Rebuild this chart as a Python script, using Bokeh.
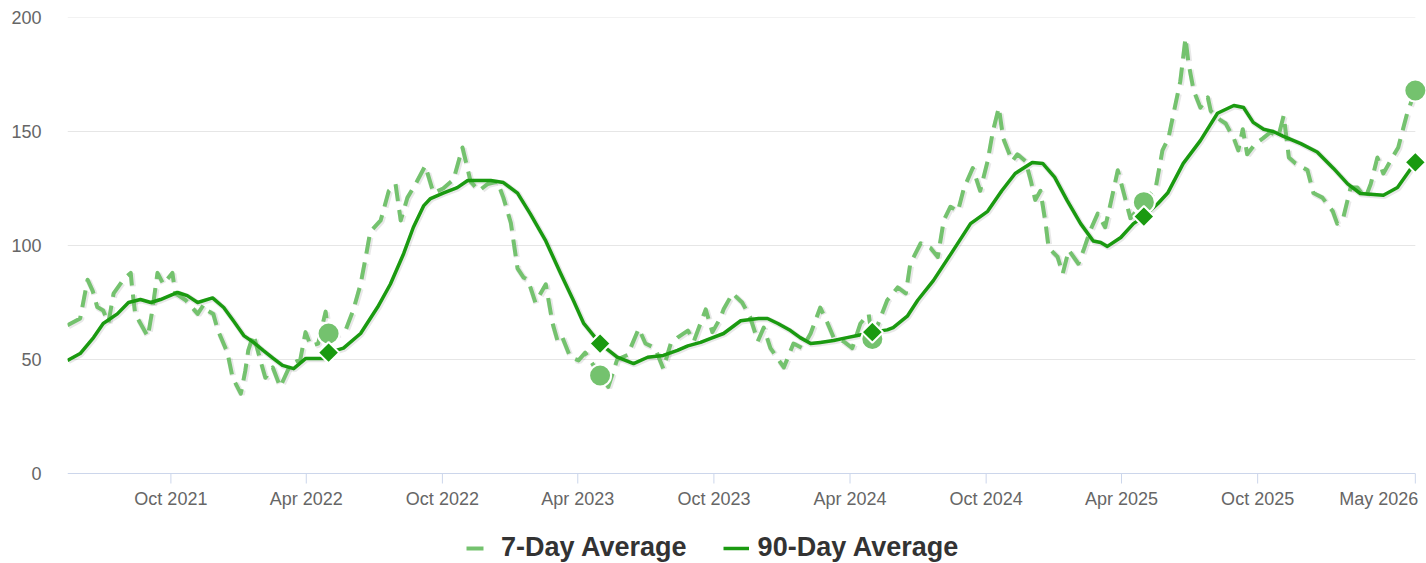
import pandas as pd
from datetime import timedelta
from bokeh.plotting import figure
from bokeh.models import Range1d, FixedTicker, Legend, LegendItem, ColumnDataSource
from bokeh.core.properties import value
from bokeh.embed import file_html
from bokeh.resources import INLINE

# ---------------- data ----------------
seven_day_dates = [
    "2021-05-15", "2021-06-01", "2021-06-11", "2021-06-18", "2021-06-24", "2021-07-02",
    "2021-07-09", "2021-07-16", "2021-07-29", "2021-08-08", "2021-08-10", "2021-08-14",
    "2021-08-31", "2021-09-06", "2021-09-13", "2021-09-21", "2021-10-03", "2021-10-07",
    "2021-10-21", "2021-11-06", "2021-11-14", "2021-11-19", "2021-11-27", "2021-12-03",
    "2021-12-16", "2021-12-23", "2022-01-03", "2022-01-09", "2022-01-13", "2022-01-20",
    "2022-01-29", "2022-02-05", "2022-02-15", "2022-02-25", "2022-03-11", "2022-03-24",
    "2022-03-31", "2022-04-07", "2022-04-17", "2022-04-27", "2022-05-01", "2022-05-13",
    "2022-05-24", "2022-06-03", "2022-06-13", "2022-06-20", "2022-06-26", "2022-07-10",
    "2022-07-21", "2022-07-30", "2022-08-06", "2022-08-15", "2022-08-26", "2022-09-08",
    "2022-09-19", "2022-10-02", "2022-10-16", "2022-10-28", "2022-11-08", "2022-11-19",
    "2022-12-01", "2022-12-14", "2022-12-22", "2023-01-01", "2023-01-10", "2023-01-18",
    "2023-01-24", "2023-02-03", "2023-02-17", "2023-02-26", "2023-03-05", "2023-03-11",
    "2023-03-22", "2023-04-02", "2023-04-11", "2023-04-21", "2023-05-01", "2023-05-12",
    "2023-05-24", "2023-06-07", "2023-06-22", "2023-07-01", "2023-07-14", "2023-07-25",
    "2023-08-04", "2023-08-13", "2023-08-27", "2023-09-04", "2023-09-20", "2023-09-29",
    "2023-10-10", "2023-10-14", "2023-10-26", "2023-11-08", "2023-11-19", "2023-11-29",
    "2023-12-07", "2023-12-16", "2024-01-03", "2024-01-16", "2024-01-28", "2024-02-08",
    "2024-02-21", "2024-03-02", "2024-03-10", "2024-03-23", "2024-04-04", "2024-04-15",
    "2024-04-26", "2024-05-01", "2024-05-21", "2024-06-04", "2024-06-15", "2024-06-21",
    "2024-07-05", "2024-07-18", "2024-07-28", "2024-08-05", "2024-08-14", "2024-08-24",
    "2024-09-01", "2024-09-13", "2024-09-23", "2024-10-03", "2024-10-10", "2024-10-18",
    "2024-10-24", "2024-11-05", "2024-11-12", "2024-11-23", "2024-11-30", "2024-12-06",
    "2024-12-13", "2024-12-20", "2024-12-24", "2025-01-05", "2025-01-12", "2025-01-20",
    "2025-02-02", "2025-02-09", "2025-02-18", "2025-02-28", "2025-03-10", "2025-03-17",
    "2025-03-27", "2025-04-04", "2025-04-13", "2025-05-01", "2025-05-17", "2025-05-26",
    "2025-06-03", "2025-06-10", "2025-06-19", "2025-06-26", "2025-06-30", "2025-07-07",
    "2025-07-16", "2025-07-26", "2025-07-30", "2025-08-12", "2025-08-19", "2025-08-30",
    "2025-09-05", "2025-09-11", "2025-09-17", "2025-09-28", "2025-10-08", "2025-10-18",
    "2025-10-29", "2025-11-05", "2025-11-12", "2025-11-21", "2025-12-07", "2025-12-15",
    "2025-12-27", "2026-01-10", "2026-01-16", "2026-01-24", "2026-02-03", "2026-02-12",
    "2026-02-23", "2026-03-02", "2026-03-11", "2026-03-19", "2026-03-31", "2026-04-08",
    "2026-04-20", "2026-05-01",
]
seven_day_values = [
    65, 68, 85, 80, 73, 71.5,
    66, 79, 85, 88, 81, 70,
    60, 71.5, 88, 83, 88, 79,
    76, 70, 74, 71.5, 70, 63,
    53, 42, 35, 45, 54, 61,
    50, 42, 46.5, 38, 48, 50,
    62, 56, 57, 71, 61.4, 61,
    63, 71.5, 83, 95, 106, 111,
    124, 127, 111, 121, 127, 135,
    123, 125, 129, 143, 128, 124,
    127, 128, 121, 110, 90, 86,
    85, 75, 83, 66, 58, 60,
    51, 49.6, 53, 48, 43, 38,
    50, 52, 63.6, 57, 55, 46,
    57, 59.6, 62.7, 58, 72, 62,
    68.4, 72, 79, 75, 68.4, 58,
    64, 55, 46.5, 57, 55, 61.4,
    72.8, 65.8, 59.6, 58, 55, 65.8,
    70, 59, 76, 81.6, 79, 92,
    101, 99, 95, 111, 117, 115,
    125, 134, 124, 137, 150, 160.5,
    147, 137, 140, 137, 128.5, 120,
    124, 109.6, 99, 95, 87.7, 98,
    92, 98, 106.6, 114, 108, 118,
    133, 123, 112, 119, 125.4, 141.7,
    147, 158, 172, 191, 180, 168,
    160.5, 165, 159, 155, 153.5, 147,
    141.7, 151, 140, 144.7, 147, 149.6,
    148, 157, 138.6, 136, 133, 123,
    121, 115, 109.6, 112, 125.4, 125.4,
    121, 127, 138.6, 131.6, 138.6, 143,
    158, 168,
]

ninety_day_dates = [
    "2021-05-15", "2021-06-01", "2021-06-19", "2021-07-02", "2021-07-21", "2021-08-05",
    "2021-08-21", "2021-09-04", "2021-09-17", "2021-10-10", "2021-10-23", "2021-11-06",
    "2021-11-26", "2021-12-11", "2021-12-24", "2022-01-07", "2022-01-20", "2022-02-02",
    "2022-02-16", "2022-02-28", "2022-03-15", "2022-03-31", "2022-04-24", "2022-05-01",
    "2022-05-21", "2022-06-13", "2022-07-06", "2022-07-23", "2022-08-10", "2022-08-23",
    "2022-09-06", "2022-09-15", "2022-10-02", "2022-10-21", "2022-11-04", "2022-12-05",
    "2022-12-22", "2023-01-10", "2023-01-27", "2023-02-17", "2023-03-09", "2023-03-26",
    "2023-04-09", "2023-05-01", "2023-05-24", "2023-06-15", "2023-07-04", "2023-07-25",
    "2023-08-13", "2023-08-27", "2023-09-13", "2023-09-26", "2023-10-14", "2023-11-06",
    "2023-11-30", "2023-12-12", "2023-12-26", "2024-01-12", "2024-01-25", "2024-02-08",
    "2024-02-21", "2024-03-10", "2024-03-28", "2024-04-11", "2024-05-01", "2024-05-21",
    "2024-05-29", "2024-06-17", "2024-07-01", "2024-07-22", "2024-08-14", "2024-09-10",
    "2024-10-03", "2024-10-22", "2024-11-09", "2024-12-02", "2024-12-16", "2025-01-01",
    "2025-01-18", "2025-02-05", "2025-02-22", "2025-03-04", "2025-03-13", "2025-03-31",
    "2025-04-17", "2025-05-01", "2025-05-20", "2025-06-02", "2025-06-23", "2025-07-16",
    "2025-08-08", "2025-08-30", "2025-09-12", "2025-09-25", "2025-10-09", "2025-10-22",
    "2025-11-04", "2025-11-28", "2025-12-20", "2026-01-11", "2026-01-30", "2026-02-16",
    "2026-03-19", "2026-04-07", "2026-05-01",
]
ninety_day_values = [
    49.6, 52.6, 59.6, 65.8, 70, 75,
    76.3, 75, 76.3, 79.4, 78, 75,
    77, 72.8, 67, 60.5, 57.5, 54,
    50.4, 47.4, 46, 50.4, 50.4, 53,
    55, 61.4, 73, 83, 96.5, 108,
    117.5, 120.6, 123, 125.4, 128.5, 128.5,
    127.6, 123, 114, 102, 87.7, 76,
    65.8, 57, 51, 48.2, 51, 51.8,
    54, 56, 57.5, 59.2, 61.4, 67,
    68, 68, 65.8, 62.7, 59.6, 57,
    57.5, 58.3, 59.6, 60.5, 62, 63,
    64, 69, 76, 84.6, 96, 109.6,
    115, 124, 131.6, 136.4, 136, 130,
    119.7, 109.6, 102, 101.3, 99.6, 103.5,
    109.6, 112.7, 118.4, 123, 136, 146,
    158, 161.4, 160.5, 154, 151, 150,
    148, 144.7, 141, 133.8, 127, 122.8,
    122, 125.4, 136.5,
]

marker_dates = ["2022-05-01", "2023-05-01", "2024-05-01", "2025-05-01", "2026-05-01"]
marker_seven_day = [61.4, 43, 59, 119, 168]
marker_ninety_day = [53, 57, 62, 112.7, 136.5]

x_tick_dates = ["2021-10-01", "2022-04-01", "2022-10-01", "2023-04-01", "2023-10-01",
                "2024-04-01", "2024-10-01", "2025-04-01", "2025-10-01", "2026-05-01"]
x_tick_labels = ["Oct 2021", "Apr 2022", "Oct 2022", "Apr 2023", "Oct 2023",
                 "Apr 2024", "Oct 2024", "Apr 2025", "Oct 2025", "May 2026"]
y_ticks = [0, 50, 100, 150, 200]

series_names = ["7-Day Average", "90-Day Average"]

# ---------------- style / layout ----------------
LIGHT = "#74c26e"
DARK = "#1a9a10"
FONT = "Liberation Sans"
AXIS_COLOR = "#ccd6eb"
LABEL_COLOR = "#666666"

W, H = 1426, 563
FRAME_LEFT, FRAME_TOP = 67, 17
PLOT_BOTTOM = 473                        # pixel row of the value 0
PX_PER_UNIT = (PLOT_BOTTOM - FRAME_TOP) / 200.0
Y_MIN = -(H - PLOT_BOTTOM) / PX_PER_UNIT  # frame reaches the canvas bottom
TICK_LEN = 10 / PX_PER_UNIT
LABEL_Y = -25 / PX_PER_UNIT

start = pd.Timestamp(seven_day_dates[0])
end = pd.Timestamp(seven_day_dates[-1])
x_end = end + timedelta(days=15)

# ranges shifted by one pixel (right / down) for the line shadows
ms_per_px = (x_end - start) / (W - FRAME_LEFT)
shadow_x = Range1d(start - ms_per_px, x_end - ms_per_px)
shadow_y = Range1d(Y_MIN + 1 / PX_PER_UNIT, 200 + 1 / PX_PER_UNIT)

s7 = ColumnDataSource(dict(x=pd.to_datetime(seven_day_dates), y=seven_day_values))
s90 = ColumnDataSource(dict(x=pd.to_datetime(ninety_day_dates), y=ninety_day_values))
sm = ColumnDataSource(dict(x=pd.to_datetime(marker_dates), y7=marker_seven_day,
                           y90=marker_ninety_day))
grid_levels = y_ticks[1:]
sg = ColumnDataSource(dict(x0=[start] * len(grid_levels), x1=[end] * len(grid_levels),
                           y=grid_levels))
tick_x = pd.to_datetime(x_tick_dates)
st = ColumnDataSource(dict(x=tick_x, y0=[0] * len(tick_x), y1=[-TICK_LEN] * len(tick_x)))
sl_center = ColumnDataSource(dict(x=tick_x[:-1], y=[LABEL_Y] * (len(tick_x) - 1),
                                  t=x_tick_labels[:-1]))
sl_right = ColumnDataSource(dict(x=tick_x[-1:], y=[LABEL_Y], t=x_tick_labels[-1:]))

p = figure(width=W, height=H, x_axis_type="datetime", x_axis_location=None,
           output_backend="svg", toolbar_location=None,
           x_range=Range1d(start, x_end),
           y_range=Range1d(Y_MIN, 200),
           min_border_left=FRAME_LEFT, min_border_right=0, min_border_top=FRAME_TOP,
           min_border_bottom=0)
p.extra_x_ranges = {"shadow": shadow_x}
p.extra_y_ranges = {"shadow": shadow_y}
p.outline_line_color = None
p.background_fill_color = "white"
p.border_fill_color = "white"
p.xgrid.visible = False
p.ygrid.visible = False

# horizontal grid lines
p.segment("x0", "y", "x1", "y", source=sg, line_color="#e6e6e6", line_width=1)

# y axis (labels only)
p.yaxis.ticker = FixedTicker(ticks=y_ticks)
p.yaxis.axis_line_color = None
p.yaxis.major_tick_line_color = None
p.yaxis.major_tick_out = 0
p.yaxis.major_tick_in = 0
p.yaxis.minor_tick_line_color = None
p.yaxis.major_label_standoff = 26
p.yaxis.major_label_text_font = FONT
p.yaxis.major_label_text_font_size = "18px"
p.yaxis.major_label_text_color = LABEL_COLOR

# x axis: baseline, ticks and labels
p.segment(x0=[start], y0=[0], x1=[end], y1=[0], line_color=AXIS_COLOR, line_width=1)
p.segment("x", "y0", "x", "y1", source=st, line_color=AXIS_COLOR, line_width=1)
p.text("x", "y", text="t", source=sl_center, text_align="center",
       text_baseline="middle", text_font=value(FONT), text_font_size="18px",
       text_color=LABEL_COLOR)
p.text("x", "y", text="t", source=sl_right, text_align="right", x_offset=3,
       text_baseline="middle", text_font=value(FONT), text_font_size="18px",
       text_color=LABEL_COLOR)

DASH = "17 9"

# soft shadows
p.line("x", "y", source=s7, line_color="black", line_alpha=0.09, line_width=6,
       line_dash=DASH, x_range_name="shadow", y_range_name="shadow")
p.line("x", "y", source=s90, line_color="black", line_alpha=0.09, line_width=5.5,
       x_range_name="shadow", y_range_name="shadow")

# series
r7 = p.line("x", "y", source=s7, line_color=LIGHT, line_width=4,
            line_dash=DASH, line_join="round")
r90 = p.line("x", "y", source=s90, line_color=DARK, line_width=3.5,
             line_join="round")

p.scatter("x", "y7", source=sm, marker="circle", size=22,
          fill_color=LIGHT, line_color="white", line_width=2)
p.scatter("x", "y90", source=sm, marker="square", angle=0.785398, size=15,
          fill_color=DARK, line_color="white", line_width=2)

legend = Legend(items=[LegendItem(label=series_names[0], renderers=[r7]),
                       LegendItem(label=series_names[1], renderers=[r90])],
                location=(399, 0), orientation="horizontal",
                glyph_width=26, glyph_height=30, label_height=30,
                label_standoff=9, spacing=36, padding=0, margin=0,
                border_line_color=None, background_fill_alpha=0,
                label_text_font=FONT, label_text_font_size="27px",
                label_text_font_style="bold", label_text_color="#333333")
p.add_layout(legend, "center")

open("out.html", "w").write(file_html(p, INLINE))
